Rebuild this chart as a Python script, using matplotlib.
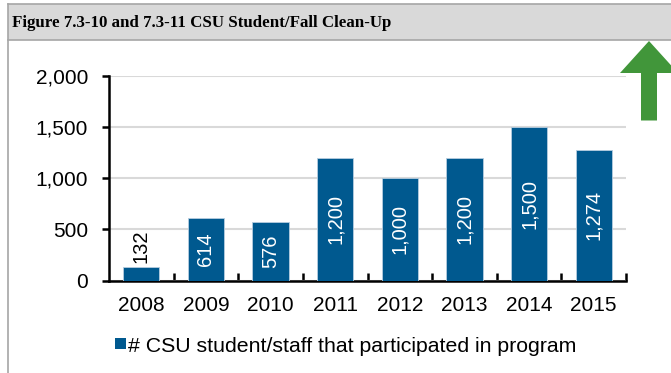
import matplotlib
matplotlib.use("Agg")
import matplotlib.pyplot as plt
from matplotlib.patches import Polygon, Rectangle
from matplotlib.lines import Line2D
from matplotlib.ticker import FuncFormatter

years = ["2008", "2009", "2010", "2011", "2012", "2013", "2014", "2015"]
participants = [132, 614, 576, 1200, 1000, 1200, 1500, 1274]
y_ticks = [0, 500, 1000, 1500, 2000]
title = "Figure 7.3-10 and 7.3-11 CSU Student/Fall Clean-Up"
series_name = "# CSU student/staff that participated in program"

W, H = 671, 373
fig = plt.figure(figsize=(W / 100, H / 100), dpi=100)
fig.patch.set_facecolor("white")

def px(x, y):
    return x / W, 1 - y / H

# header band and frame
x0, y0 = px(8, 4)
x1, y1 = px(W + 2, 40)
fig.patches.append(Rectangle((x0, y1), x1 - x0, y0 - y1, transform=fig.transFigure,
                             facecolor="#d9d9d9", edgecolor="none", zorder=0))
fig.add_artist(Line2D([x0, 1], [y0, y0], transform=fig.transFigure, color="#a6a6a6", lw=1.2))
fig.add_artist(Line2D([x0, 1], [y1, y1], transform=fig.transFigure, color="#a6a6a6", lw=1.2))
fig.add_artist(Line2D([x0, x0], [0, y0], transform=fig.transFigure, color="#a6a6a6", lw=1.2))
tx, ty = px(12, 23)
fig.text(tx, ty, title, family="Liberation Serif", weight="bold", fontsize=12.2,
         va="center", ha="left", color="black")

# green up arrow
arrow_pts = [(649, 41), (678, 73), (657, 73), (657, 120.5), (641, 120.5), (641, 73), (620, 73)]
fig.patches.append(Polygon([px(a, b) for a, b in arrow_pts], closed=True,
                           transform=fig.transFigure, facecolor="#41963a",
                           edgecolor="none", zorder=5))

# chart
left, top = px(109, 75.7)
right, bottom = px(626, 280.7)
ax = fig.add_axes([left, bottom, right - left, top - bottom])
xs = list(range(len(years)))
bar_color = "#00598f"
ax.bar(xs, participants, width=0.56, color=bar_color, edgecolor="#b7cde0",
       linewidth=0.6, zorder=3)
ax.set_xlim(-0.5, len(years) - 0.5)
ax.set_ylim(0, 2000)
ax.set_yticks(y_ticks)
ax.yaxis.set_major_formatter(FuncFormatter(lambda v, p: f"{int(v):,}"))
ax.yaxis.grid(True, color="#d9d9d9", lw=1.5, zorder=0)
ax.set_axisbelow(True)
for s in ["top", "right"]:
    ax.spines[s].set_visible(False)
for s in ["left", "bottom"]:
    ax.spines[s].set_color("black")
    ax.spines[s].set_linewidth(1.8)

ax.set_xticks(xs)
ax.set_xticklabels(years, family="Liberation Sans", fontsize=15)
ax.tick_params(axis="x", length=0, pad=11)
ax.set_xticks([i + 0.5 for i in xs], minor=True)
ax.tick_params(axis="x", which="minor", direction="in", length=6, width=1.8)
ax.tick_params(axis="y", direction="out", length=5, width=1.8, pad=10, labelsize=15)
for lab in ax.get_yticklabels():
    lab.set_family("Liberation Sans")

for i, v in enumerate(participants):
    txt = f"{v:,}"
    if v < 300:
        ax.text(i, v + 40, txt, rotation=90, ha="center", va="bottom",
                family="Liberation Sans", fontsize=14.5, color="black")
    else:
        ax.text(i, v / 2, txt, rotation=90, ha="center", va="center",
                family="Liberation Sans", fontsize=14.5, color="white")

# legend
lx, ly = px(115, 338)
lw_, lh = 11 / W, 11 / H
fig.patches.append(Rectangle((lx, ly - lh), lw_, lh, transform=fig.transFigure,
                             facecolor=bar_color, edgecolor="none"))
gx, gy = px(128, 346)
fig.text(gx, gy, series_name, family="Liberation Sans", fontsize=15.3,
         va="center", ha="left", color="black")

fig.savefig("out.png", dpi=100)
